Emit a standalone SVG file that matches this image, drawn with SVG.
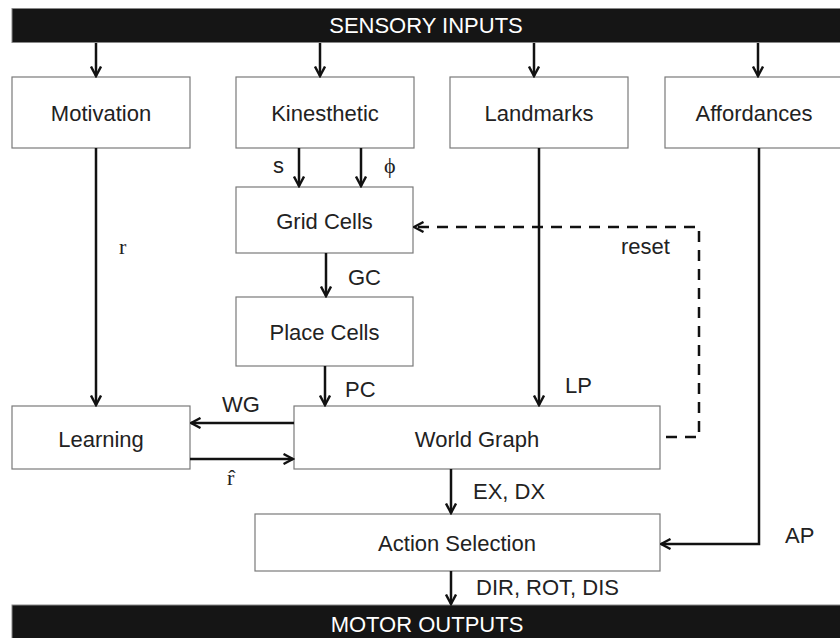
<svg xmlns="http://www.w3.org/2000/svg" width="840" height="638" viewBox="0 0 840 638">
<style>
.bar{fill:#151515;stroke:#888;stroke-width:1}
.box{fill:#fff;stroke:#7a7a7a;stroke-width:1.2}
.bt{font-family:"Liberation Sans",Arial,sans-serif;font-size:22px;fill:#fff;text-anchor:middle}
.nt{font-family:"Liberation Sans",Arial,sans-serif;font-size:22px;fill:#222;text-anchor:middle}
.lb{font-family:"Liberation Sans",Arial,sans-serif;font-size:22px;fill:#222}
.sr{font-family:"Liberation Serif","DejaVu Serif","Times New Roman",serif;font-size:22px;fill:#222}
.c{fill:none;stroke:#111;stroke-width:2.5}
.d{fill:none;stroke:#111;stroke-width:2.5;stroke-dasharray:11 8}
</style>
<defs>
<marker id="ah" viewBox="0 0 12 12" refX="10.5" refY="6" markerWidth="12" markerHeight="12" markerUnits="userSpaceOnUse" orient="auto">
<path d="M1,1 L10.5,6 L1,11" fill="none" stroke="#111" stroke-width="2.4"/>
</marker>
</defs>
<g id="sensory"><rect class="bar" x="12" y="8.5" width="840" height="34"/><text class="bt" x="426" y="33">SENSORY INPUTS</text></g>
<g id="motor"><rect class="bar" x="12" y="605" width="840" height="40"/><text class="bt" x="427" y="632">MOTOR OUTPUTS</text></g>
<g id="motivation"><rect class="box" x="12" y="77" width="178" height="71"/><text class="nt" x="101" y="121">Motivation</text></g>
<g id="kinesthetic"><rect class="box" x="236" y="77" width="178" height="71"/><text class="nt" x="325" y="121">Kinesthetic</text></g>
<g id="landmarks"><rect class="box" x="450" y="77" width="178" height="71"/><text class="nt" x="539" y="121">Landmarks</text></g>
<g id="affordances"><rect class="box" x="665" y="77" width="190" height="71"/><text class="nt" x="754" y="121">Affordances</text></g>
<g id="gridcells"><rect class="box" x="236" y="187" width="177" height="66"/><text class="nt" x="324.5" y="229">Grid Cells</text></g>
<g id="placecells"><rect class="box" x="236" y="297" width="177" height="69"/><text class="nt" x="324.5" y="340">Place Cells</text></g>
<g id="learning"><rect class="box" x="12" y="406" width="178" height="63"/><text class="nt" x="101" y="447">Learning</text></g>
<g id="worldgraph"><rect class="box" x="294" y="406" width="366" height="63"/><text class="nt" x="477" y="447">World Graph</text></g>
<g id="actionselection"><rect class="box" x="255" y="514" width="405" height="57"/><text class="nt" x="457" y="551">Action Selection</text></g>
<g id="connectors">
<path class="c" d="M96,43 V76" marker-end="url(#ah)"/>
<path class="c" d="M320,43 V76" marker-end="url(#ah)"/>
<path class="c" d="M534,43 V76" marker-end="url(#ah)"/>
<path class="c" d="M758,43 V76" marker-end="url(#ah)"/>
<path class="c" d="M96,148 V405" marker-end="url(#ah)"/>
<path class="c" d="M299,148 V186" marker-end="url(#ah)"/>
<path class="c" d="M361,148 V186" marker-end="url(#ah)"/>
<path class="c" d="M326,253 V296" marker-end="url(#ah)"/>
<path class="c" d="M325,366 V405" marker-end="url(#ah)"/>
<path class="c" d="M539,148 V405" marker-end="url(#ah)"/>
<path class="c" d="M294,423 H191" marker-end="url(#ah)"/>
<path class="c" d="M190,459 H293" marker-end="url(#ah)"/>
<path class="d" d="M666,437 H699 V227 H414" marker-end="url(#ah)"/>
<path class="c" d="M759,148 V544 H661" marker-end="url(#ah)"/>
<path class="c" d="M451,469 V513" marker-end="url(#ah)"/>
<path class="c" d="M451,571 V604" marker-end="url(#ah)"/>
<text class="sr" x="119" y="254">r</text>
<text class="lb" x="273" y="173">s</text>
<text class="sr" x="384" y="173">ϕ</text>
<text class="lb" x="348" y="285">GC</text>
<text class="lb" x="345" y="397">PC</text>
<text class="lb" x="565" y="393">LP</text>
<text class="lb" x="621" y="254">reset</text>
<text class="lb" x="222" y="412">WG</text>
<text class="sr" x="227" y="485">r̂</text>
<text class="lb" x="473" y="499">EX, DX</text>
<text class="lb" x="785" y="543">AP</text>
<text class="lb" x="476" y="595">DIR, ROT, DIS</text>
</g>
</svg>
